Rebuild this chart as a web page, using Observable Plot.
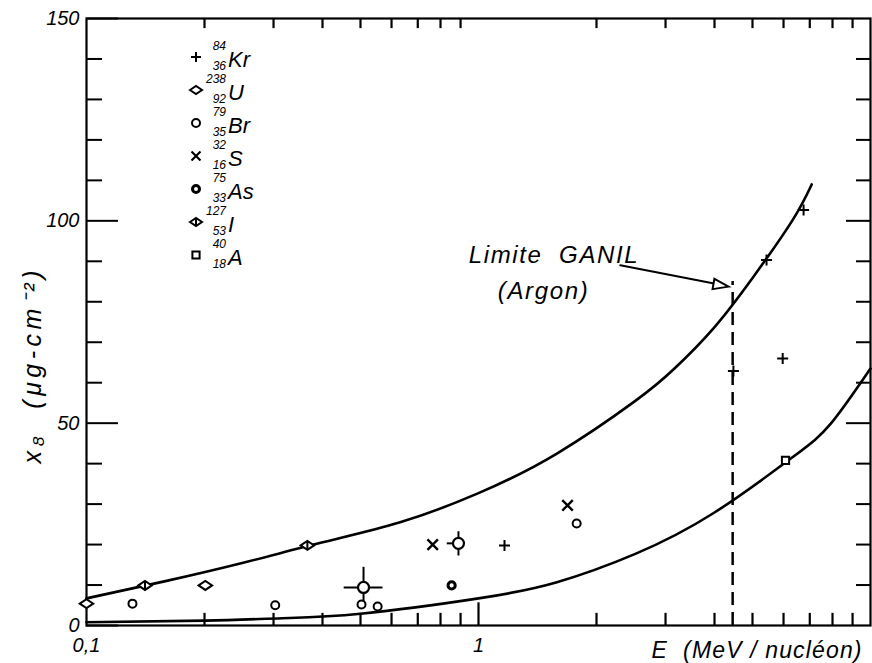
<!DOCTYPE html>
<html><head><meta charset="utf-8">
<script src="https://cdn.jsdelivr.net/npm/d3@7"></script>
<script src="https://cdn.jsdelivr.net/npm/@observablehq/plot@0.6"></script>
<style>body{margin:0;background:#fff}</style>
</head><body><div id="chart"></div>
<script>
// ---- data ----
const upperE = [0.1, 0.158, 0.251, 0.398, 0.631, 1, 1.585, 2.512, 3.162, 3.981, 5.012, 6.31, 7.08];
const upperX = [6.7, 10.9, 15.5, 20.5, 25.5, 32.7, 42.5, 55.5, 63.5, 73.5, 86, 100, 109];
const lowerE = [0.1, 0.2, 0.316, 0.5, 1, 1.585, 2.512, 3.981, 6.31, 7.94, 10];
const lowerX = [0.8, 1.2, 1.8, 2.9, 6.7, 10.7, 17.7, 27.8, 41.5, 50, 63.5];

const krE = [1.165, 4.47, 5.97, 5.43, 6.75];
const krX = [19.8, 62.9, 66, 90.3, 102.7];
const uE = [0.1, 0.201];
const uX = [5.4, 9.9];
const brE = [0.131, 0.303, 0.503, 0.553, 1.78];
const brX = [5.4, 5.0, 5.2, 4.7, 25.2];
const brBigE = [0.509, 0.889];
const brBigX = [9.4, 20.3];
const brErrELo = [0.453, 0.83];
const brErrEHi = [0.569, 0.889];
const brErrXLo = [5.9, 17.3];
const brErrXHi = [14.5, 23.3];
const sE = [0.764, 1.687];
const sX = [20, 29.7];
const asE = [0.854];
const asX = [9.9];
const iE = [0.141, 0.366];
const iX = [9.9, 19.8];
const aE = [6.07];
const aX = [40.8];

const ganilE = 4.45;
const ganilTop = 85;

const legendEl = ["Kr", "U", "Br", "S", "As", "I", "A"];
const legendA = ["84", "238", "79", "32", "75", "127", "40"];
const legendZ = ["36", "92", "35", "16", "33", "53", "18"];

const yMajor = [0, 50, 100, 150];
const yMinor = [10, 20, 30, 40, 60, 70, 80, 90, 110, 120, 130, 140];
const xMinor = [0.2, 0.3, 0.4, 0.5, 0.6, 0.7, 0.8, 0.9, 2, 3, 4, 5, 6, 7, 8, 9];
const xMajor = [1];
const xLabels = [0.1, 1];
const xLabelText = ["0,1", "1"];

// ---- helpers ----
const zip = (a, b) => a.map((e, i) => ({e, v: b[i]}));
const eye = {draw(ctx, size) { const r = Math.sqrt(size / Math.PI);
  ctx.moveTo(-1.5 * r, 0); ctx.lineTo(0, -r); ctx.lineTo(1.5 * r, 0); ctx.lineTo(0, r); ctx.closePath(); }};
const eyeBar = {draw(ctx, size) { const r = Math.sqrt(size / Math.PI); eye.draw(ctx, size);
  ctx.moveTo(0, -r); ctx.lineTo(0, r); }};
const plus = {draw(ctx, size) { const r = Math.sqrt(size / Math.PI);
  ctx.moveTo(-r, 0); ctx.lineTo(r, 0); ctx.moveTo(0, -r); ctx.lineTo(0, r); }};
const times = {draw(ctx, size) { const r = Math.sqrt(size / Math.PI) * 0.75;
  ctx.moveTo(-r, -r); ctx.lineTo(r, r); ctx.moveTo(-r, r); ctx.lineTo(r, -r); }};
const square = {draw(ctx, size) { const r = Math.sqrt(size / Math.PI) * 0.8;
  ctx.rect(-r, -r, 2 * r, 2 * r); }};
const tri = {draw(ctx, size) { const r = Math.sqrt(size / Math.PI);
  ctx.moveTo(0, -1.2 * r); ctx.lineTo(0.75 * r, 1.0 * r); ctx.lineTo(-0.75 * r, 1.0 * r); ctx.closePath(); }};

const font = "Liberation Sans, Arial, sans-serif";
const errors = brErrELo.map((lo, i) => ({lo, hi: brErrEHi[i], v: brBigX[i], e: brBigE[i], ylo: brErrXLo[i], yhi: brErrXHi[i]}));
// x tick lengths expressed in y units (about 4.05 px per unit)
const tickMinorLen = 3, tickMajorLen = 5.6, tickTopLen = 2.5;

const plot = Plot.plot({
  width: 872, height: 663,
  marginLeft: 86, marginRight: 2, marginTop: 18, marginBottom: 38,
  x: {type: "log", domain: [0.1, 10]},
  y: {domain: [0, 150]},
  style: {fontFamily: font, background: "white", color: "black"},
  marks: [
    // labels
    Plot.axisY(yMajor, {anchor: "left", tickSize: 0, tickPadding: 7, fontSize: 20, fontStyle: "italic", label: null}),
    Plot.axisX(xLabels, {anchor: "bottom", tickSize: 0, tickPadding: 12, fontSize: 20, fontStyle: "italic",
      tickFormat: (d) => xLabelText[xLabels.indexOf(d)], label: null}),
    Plot.frame({strokeWidth: 2.2}),
    // curves
    Plot.line(zip(upperE, upperX), {x: "e", y: "v", curve: "natural", strokeWidth: 2.6}),
    Plot.line(zip(lowerE, lowerX), {x: "e", y: "v", curve: "natural", strokeWidth: 2.6}),
    // GANIL limit
    Plot.ruleX([ganilE], {y1: 0, y2: ganilTop, strokeWidth: 2.5, strokeDasharray: "13,7"}),
    // error bars
    Plot.link(errors, {x1: "lo", x2: "hi", y1: "v", y2: "v", strokeWidth: 2}),
    Plot.link(errors, {x1: "e", x2: "e", y1: "ylo", y2: "yhi", strokeWidth: 2}),
    // points
    Plot.dot(zip(brBigE, brBigX), {x: "e", y: "v", r: 5.5, fill: "white", stroke: "black", strokeWidth: 2.2}),
    Plot.dot(zip(brE, brX), {x: "e", y: "v", r: 4, fill: "white", stroke: "black", strokeWidth: 2}),
    Plot.dot(zip(asE, asX), {x: "e", y: "v", r: 3.6, fill: "white", stroke: "black", strokeWidth: 3}),
    Plot.dot(zip(krE, krX), {x: "e", y: "v", r: 5.5, symbol: plus, fill: "none", stroke: "black", strokeWidth: 2}),
    Plot.dot(zip(sE, sX), {x: "e", y: "v", r: 7, symbol: times, fill: "none", stroke: "black", strokeWidth: 2.4}),
    Plot.dot(zip(uE, uX), {x: "e", y: "v", r: 4.5, symbol: eye, fill: "white", stroke: "black", strokeWidth: 2}),
    Plot.dot(zip(iE, iX), {x: "e", y: "v", r: 4.5, symbol: eyeBar, fill: "white", stroke: "black", strokeWidth: 2}),
    Plot.dot(zip(aE, aX), {x: "e", y: "v", r: 4.5, symbol: square, fill: "white", stroke: "black", strokeWidth: 2}),
    // annotation
    Plot.text(["Limite  GANIL"], {x: 0.944, y: 89.7, textAnchor: "start", lineAnchor: "bottom", fontSize: 24, fontStyle: "italic"}),
    Plot.text(["(Argon)"], {x: 1.12, y: 80.8, textAnchor: "start", lineAnchor: "bottom", fontSize: 24, fontStyle: "italic"}),
    Plot.line([{e: 2.30, v: 89}, {e: 3.96, v: 84.6}], {x: "e", y: "v", strokeWidth: 2}),
    Plot.dot([{e: 4.14, v: 84.1}], {x: "e", y: "v", r: 7, symbol: tri, rotate: 100, fill: "white", stroke: "black", strokeWidth: 2}),
    // axis titles
    Plot.text(["E  (MeV / nucléon)"], {frameAnchor: "bottom-right", dx: -9, dy: 32, textAnchor: "end", lineAnchor: "bottom", fontSize: 23, fontStyle: "italic"}),
    Plot.text(["x₈  (μg-cm⁻²)"], {frameAnchor: "left", rotate: -90, dx: -46, dy: 45, textAnchor: "middle", lineAnchor: "bottom", fontSize: 25, fontStyle: "italic"}),
    // inward ticks, drawn last
    Plot.ruleX(xMinor, {y1: 0, y2: tickMinorLen, stroke: "black", strokeWidth: 2.2}),
    Plot.ruleX(xMajor, {y1: 0, y2: tickMajorLen, stroke: "black", strokeWidth: 2.2}),
    Plot.ruleX(xMinor, {y1: 150, y2: 150 - tickTopLen, stroke: "black", strokeWidth: 2.2}),
    Plot.axisY(yMinor, {anchor: "left", tickSize: -16, tickFormat: () => "", strokeWidth: 2, label: null}),
    Plot.axisY(yMajor, {anchor: "left", tickSize: -32, tickFormat: () => "", strokeWidth: 2, label: null}),
    Plot.axisY(yMinor, {anchor: "right", tickSize: -15, tickFormat: () => "", strokeWidth: 2, label: null}),
    Plot.axisY([50, 100], {anchor: "right", tickSize: -25, tickFormat: () => "", strokeWidth: 2, label: null})
  ]
});

const svg = d3.select(plot);
const stretch = {"Limite  GANIL": 169, "(Argon)": 90, "E  (MeV / nucléon)": 210, "x₈  (μg-cm⁻²)": 193};
svg.selectAll("text").each(function() {
  const w = stretch[this.textContent];
  if (w) d3.select(this).attr("textLength", w).attr("lengthAdjust", "spacing");
});

// legend
const legendSyms = [
  {sym: plus, r: 5, fill: "none", sw: 2},
  {sym: eye, r: 4, fill: "white", sw: 2},
  {sym: d3.symbolCircle, r: 4, fill: "white", sw: 2},
  {sym: times, r: 6, fill: "none", sw: 2.2},
  {sym: d3.symbolCircle, r: 3.5, fill: "white", sw: 3},
  {sym: eyeBar, r: 4, fill: "white", sw: 2},
  {sym: square, r: 4.5, fill: "white", sw: 2}
];
const g = svg.append("g").attr("font-family", font).attr("font-style", "italic");
legendEl.forEach((el, i) => {
  const base = 67 + i * 33;
  const s = legendSyms[i];
  g.append("path")
    .attr("transform", `translate(196,${base - 10})`)
    .attr("d", d3.symbol().type(s.sym).size(s.r * s.r * Math.PI)())
    .attr("fill", s.fill).attr("stroke", "black").attr("stroke-width", s.sw);
  g.append("text").attr("x", 226).attr("y", base - 17).attr("text-anchor", "end").attr("font-size", 12).text(legendA[i]);
  g.append("text").attr("x", 226).attr("y", base + 3).attr("text-anchor", "end").attr("font-size", 12).text(legendZ[i]);
  g.append("text").attr("x", 228).attr("y", base).attr("text-anchor", "start").attr("font-size", 22).text(el);
});

document.getElementById("chart").append(plot);
</script>
</body></html>
